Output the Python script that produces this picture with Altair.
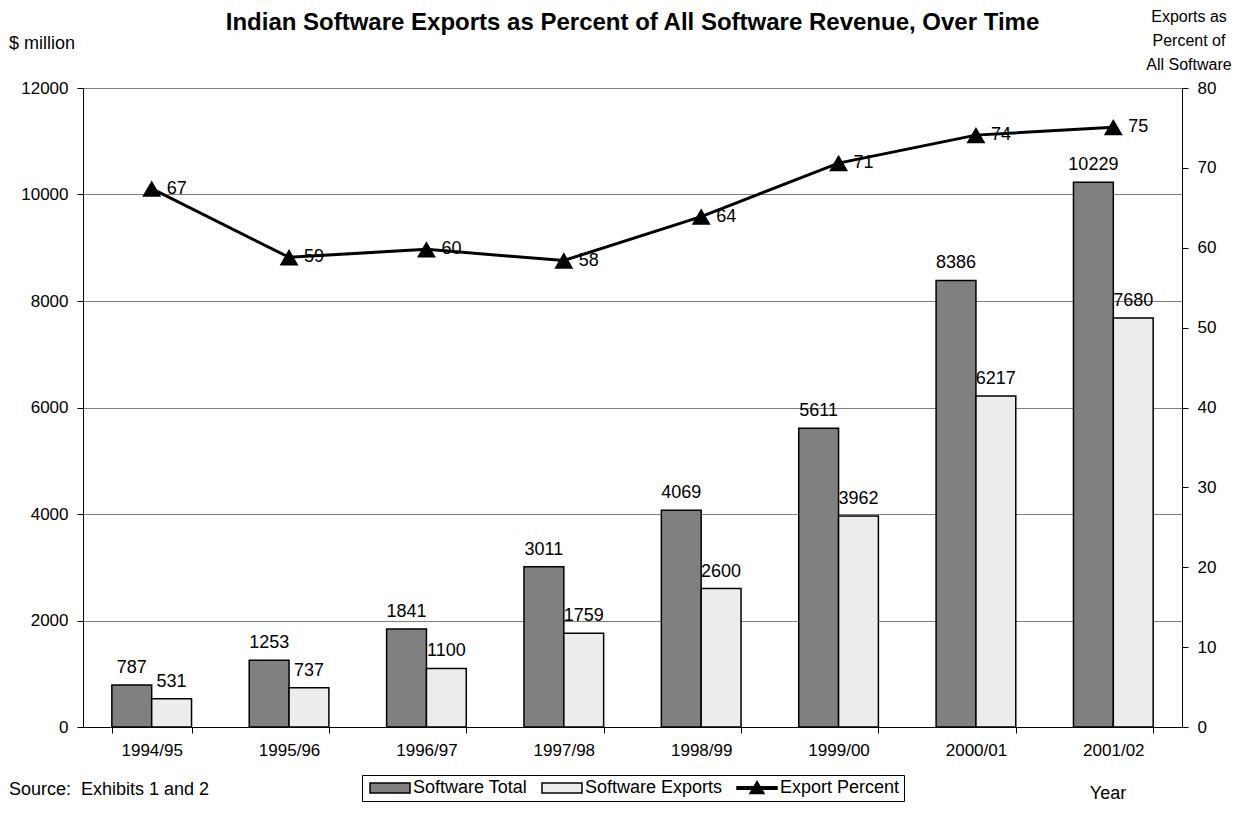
import altair as alt
import pandas as pd

years = ["1994/95", "1995/96", "1996/97", "1997/98", "1998/99", "1999/00", "2000/01", "2001/02"]
software_total = [787, 1253, 1841, 3011, 4069, 5611, 8386, 10229]
software_exports = [531, 737, 1100, 1759, 2600, 3962, 6217, 7680]
export_percent = [67.4, 58.8, 59.8, 58.4, 63.9, 70.6, 74.1, 75.1]
export_percent_labels = ["67", "59", "60", "58", "64", "71", "74", "75"]

series_bar = ["Software Total", "Software Exports"]
series_all = ["Software Total", "Software Exports", "Export Percent"]
series_colors = ["#808080", "#ececec", "#000000"]
series_strokes = ["#000000", "#000000", "#000000"]

FONT = "Liberation Sans"

rows = []
for i, y in enumerate(years):
    rows.append({"year": y, "series": series_bar[0], "value": software_total[i]})
    rows.append({"year": y, "series": series_bar[1], "value": software_exports[i]})
df_bars = pd.DataFrame(rows)
df_line = pd.DataFrame({"year": years, "pct": export_percent, "label": export_percent_labels})
df_leg = pd.DataFrame({"series": series_all})

rect_path = "M-1,-1H7V1H-1Z"
line_path = "M-1,-0.25H7V0.25H-1Z M1.6,1.1L3,-1.3L4.4,1.1Z"

legend = alt.Legend(
    title=None, orient="none", legendX=279, legendY=687, direction="horizontal",
    columns=3, strokeColor="black", fillColor="white", padding=4, cornerRadius=0,
    labelFont=FONT, labelFontSize=18, labelColor="black", labelOffset=29,
    symbolSize=100, symbolStrokeColor="black", symbolStrokeWidth=1.5, symbolOpacity=1,
    columnPadding=10, labelLimit=0,
)

xaxis = alt.Axis(title=None, tickBand="extent", labelAngle=0, tickSize=6, labelPadding=9,
                 domainColor="black", tickColor="black", labelColor="black",
                 labelFont=FONT, labelFontSize=17, grid=False)
xenc = alt.X("year:N", sort=years,
             scale=alt.Scale(type="band", domain=years, paddingInner=0.42, paddingOuter=0.21),
             axis=xaxis)

left_axis = alt.Axis(title=None, orient="left", values=[0, 2000, 4000, 6000, 8000, 10000, 12000],
                     format="d", grid=True, gridColor="#808080", gridWidth=1, domainColor="black",
                     tickColor="black", tickSize=6, labelPadding=9, labelColor="black",
                     labelFont=FONT, labelFontSize=17)
right_axis = alt.Axis(title=None, orient="right", values=[0, 10, 20, 30, 40, 50, 60, 70, 80],
                      format="d", grid=False, domainColor="black", tickColor="black", tickSize=6,
                      labelPadding=9, labelColor="black", labelFont=FONT, labelFontSize=17)

yleft = alt.Y("value:Q", scale=alt.Scale(domain=[0, 12000], nice=False), axis=left_axis)
yright = alt.Y("pct:Q", scale=alt.Scale(domain=[0, 80], nice=False), axis=right_axis)

xoff = alt.XOffset("series:N", sort=series_bar,
                   scale=alt.Scale(domain=series_bar, paddingInner=0, paddingOuter=0))
fill_scale = alt.Scale(domain=series_all, range=series_colors)

bars = alt.Chart(df_bars).mark_bar(stroke="black", strokeWidth=1.5).encode(
    x=xenc, xOffset=xoff, y=yleft,
    fill=alt.Fill("series:N", scale=fill_scale, legend=legend),
)
bar_labels = alt.Chart(df_bars).mark_text(
    baseline="alphabetic", dy=-12, font=FONT, fontSize=18, color="black"
).encode(x=xenc, xOffset=xoff, y=yleft, text=alt.Text("value:Q", format="d"))

left = alt.layer(bars, bar_labels)

line = alt.Chart(df_line).mark_line(color="black", strokeWidth=3).encode(x=xenc, y=yright)
tri = alt.Chart(df_line).mark_point(shape="triangle-up", filled=True, color="black",
                                    size=360, opacity=1).encode(x=xenc, y=yright)
line_labels = alt.Chart(df_line).mark_text(
    align="left", baseline="middle", dx=15, font=FONT, fontSize=18, color="black"
).encode(x=xenc, y=yright, text="label:N")

right = alt.layer(line, tri, line_labels)

legend_layer = alt.Chart(df_leg).mark_point(
    filled=True, opacity=0, strokeWidth=1.5
).encode(
    fill=alt.Fill("series:N", scale=fill_scale, legend=legend),
    stroke=alt.Stroke("series:N", scale=alt.Scale(domain=series_all, range=series_strokes),
                      legend=legend),
    shape=alt.Shape("series:N", scale=alt.Scale(domain=series_all,
                                                range=[rect_path, rect_path, line_path]),
                    legend=legend),
)

df_title = pd.DataFrame({"t": ["Indian Software Exports as Percent of All Software Revenue, Over Time"]})
title_txt = alt.Chart(df_title).mark_text(
    align="center", baseline="middle", font=FONT, fontSize=24, fontWeight="bold", color="black"
).encode(x=alt.value(549.5), y=alt.value(-65), text="t:N")

df_ml = pd.DataFrame({"t": ["$ million"]})
ml_txt = alt.Chart(df_ml).mark_text(
    align="left", baseline="middle", font=FONT, fontSize=18, color="black"
).encode(x=alt.value(-74), y=alt.value(-44), text="t:N")

df_rt = pd.DataFrame({"t": ["Exports as\nPercent of\nAll Software"]})
rt_txt = alt.Chart(df_rt).mark_text(
    align="center", baseline="top", font=FONT, fontSize=16, color="black",
    lineBreak="\n", lineHeight=24
).encode(x=alt.value(1106), y=alt.value(-79), text="t:N")

df_src = pd.DataFrame({"t": ["Source:\u00a0 Exhibits 1 and 2"]})
src_txt = alt.Chart(df_src).mark_text(
    align="left", baseline="middle", font=FONT, fontSize=18, color="black"
).encode(x=alt.value(-74), y=alt.value(702), text="t:N")

df_year = pd.DataFrame({"t": ["Year"]})
year_txt = alt.Chart(df_year).mark_text(
    align="center", baseline="top", font=FONT, fontSize=18, color="black"
).encode(x=alt.value(1025), y=alt.value(697), text="t:N")

chart = alt.layer(
    left, right, legend_layer, title_txt, ml_txt, rt_txt, src_txt, year_txt
).resolve_scale(y="independent").properties(
    width=1099, height=639,
    autosize=alt.AutoSizeParams(type="none"),
    padding={"left": 75, "top": 80, "right": 51, "bottom": 78},
).configure_view(stroke=None).configure(font=FONT)

chart.save("out.html", embed_options={"renderer": "svg", "actions": False})
